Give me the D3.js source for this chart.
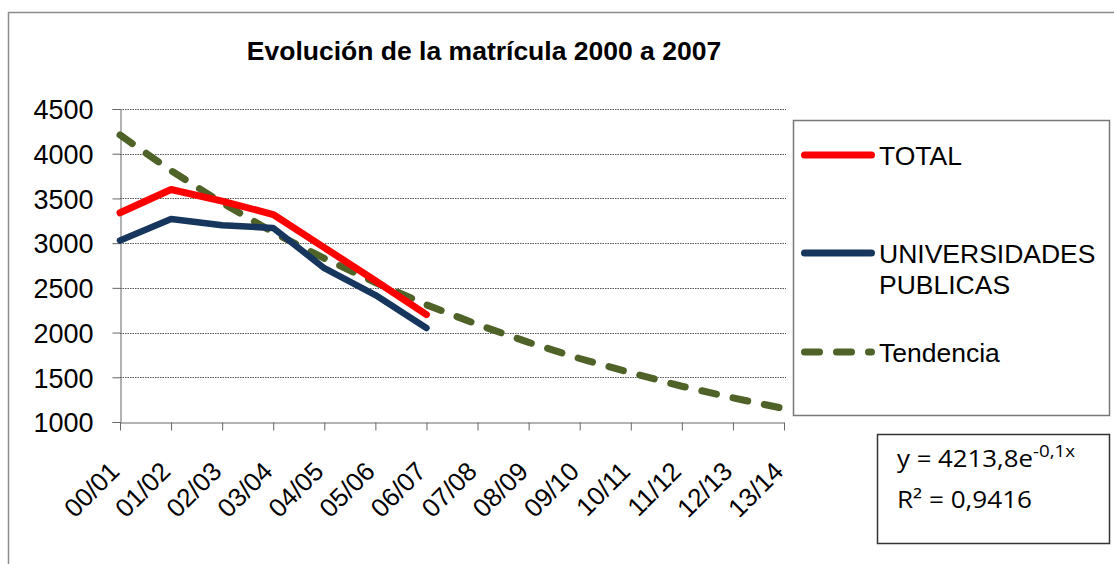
<!DOCTYPE html>
<html>
<head>
<meta charset="utf-8">
<script src="https://cdn.jsdelivr.net/npm/d3@7"></script>
<style>
  body { margin: 0; background: white; }
  text { font-family: "Liberation Sans", Arial, sans-serif; }
</style>
</head>
<body>
<script>
// data
const years = ["00/01", "01/02", "02/03", "03/04", "04/05", "05/06", "06/07",
               "07/08", "08/09", "09/10", "10/11", "11/12", "12/13", "13/14"]
const total = [3340, 3600, 3470, 3320, 2950, 2580, 2200]
const publicas = [3030, 3270, 3200, 3170, 2720, 2420, 2050]
const tendencia = [4210, 3810, 3450, 3120, 2830, 2560, 2310, 2090, 1890, 1710, 1550, 1400, 1270, 1150]
const yTicks = [1000, 1500, 2000, 2500, 3000, 3500, 4000, 4500]

const svg = d3.select("body").append("svg")
            .attr("width", 1114)
            .attr("height", 564)

// outer frame (only top and left show)
svg.append("path")
    .attr("d", "M8.5,564 V12.5 H1114")
    .style("fill", "none")
    .style("stroke", "#8c8c8c")
    .style("stroke-width", 1.5)

const x = d3.scalePoint().domain(years).range([120, 784])
const y = d3.scaleLinear().domain([1000, 4500]).range([422, 109])

svg.append("text")
    .attr("x", 484)
    .attr("y", 60)
    .attr("text-anchor", "middle")
    .style("font-weight", "bold")
    .style("font-size", "26.5px")
    .text("Evolución de la matrícula 2000 a 2007")

// gridlines
svg.selectAll(".grid")
    .data(yTicks.filter(d => d > 1000))
    .join("line")
    .attr("class", "grid")
    .attr("x1", 120).attr("x2", 786)
    .attr("y1", d => Math.round(y(d)) + 0.5)
    .attr("y2", d => Math.round(y(d)) + 0.5)
    .style("stroke", "#555")
    .style("stroke-width", 1)
    .style("stroke-dasharray", "1.5,1")

// y axis
const yAxis = svg.append("g")
    .attr("transform", "translate(120.5,0)")
    .call(d3.axisLeft(y).tickValues(yTicks).tickFormat(d3.format("d")).tickSize(8).tickPadding(19))
yAxis.select(".domain").style("stroke", "#666")
yAxis.selectAll(".tick line").style("stroke", "#666")
yAxis.selectAll(".tick text")
    .style("font-size", "27px")
    .style("font-family", "Liberation Sans, Arial, sans-serif")
    .attr("dy", "0.36em")
    .style("fill", "black")

// x axis
const xAxis = svg.append("g")
    .attr("transform", "translate(0,422.5)")
    .call(d3.axisBottom(x).tickSize(8).tickSizeOuter(0).tickFormat(""))
xAxis.select(".domain").style("stroke", "#666")
xAxis.selectAll(".tick line").style("stroke", "#666")

svg.selectAll(".xlabel")
    .data(years)
    .join("text")
    .attr("class", "xlabel")
    .attr("transform", d => `translate(${x(d) + 1},${473}) rotate(-45)`)
    .attr("text-anchor", "end")
    .style("font-size", "26px")
    .text(d => d)

const line = d3.line()
    .x((d, i) => x(years[i]))
    .y(d => y(d))

svg.append("path")
    .datum(tendencia)
    .attr("d", line)
    .style("fill", "none")
    .style("stroke", "#4f6228")
    .style("stroke-width", 7)
    .style("stroke-linecap", "round")
    .style("stroke-dasharray", "15,17")

svg.append("path")
    .datum(publicas)
    .attr("d", line)
    .style("fill", "none")
    .style("stroke", "#17365d")
    .style("stroke-width", 6.5)
    .style("stroke-linecap", "round")
    .style("stroke-linejoin", "round")

svg.append("path")
    .datum(total)
    .attr("d", line)
    .style("fill", "none")
    .style("stroke", "#ff0000")
    .style("stroke-width", 7)
    .style("stroke-linecap", "round")
    .style("stroke-linejoin", "round")

// legend
svg.append("rect")
    .attr("x", 793.5).attr("y", 120.5)
    .attr("width", 316).attr("height", 295)
    .style("fill", "white")
    .style("stroke", "#777")
    .style("stroke-width", 1.5)

const legendItems = [
    {label: ["TOTAL"], color: "#ff0000", y: 155, dash: null},
    {label: ["UNIVERSIDADES", "PUBLICAS"], color: "#17365d", y: 253, dash: null},
    {label: ["Tendencia"], color: "#4f6228", y: 352, dash: "15,17"}
]

const legend = svg.selectAll(".legend")
    .data(legendItems)
    .join("g")
    .attr("class", "legend")

legend.append("line")
    .attr("x1", 804.5).attr("x2", 871.5)
    .attr("y1", d => d.y).attr("y2", d => d.y)
    .style("stroke", d => d.color)
    .style("stroke-width", 7)
    .style("stroke-linecap", "round")
    .style("stroke-dasharray", d => d.dash)

legend.append("text")
    .attr("x", 879)
    .attr("y", d => d.y + 10)
    .style("font-size", "26.5px")
    .selectAll("tspan")
    .data(d => d.label)
    .join("tspan")
    .attr("x", 879)
    .attr("dy", (d, i) => i == 0 ? 0 : 31)
    .text(d => d)

// trendline equation
svg.append("rect")
    .attr("x", 877.5).attr("y", 434.5)
    .attr("width", 232).attr("height", 109)
    .style("fill", "white")
    .style("stroke", "#333")
    .style("stroke-width", 1.5)

const eq = svg.append("text")
    .attr("x", 897)
    .attr("y", 467)
    .style("font-family", "'Open Sans', Lato, sans-serif")
    .style("font-size", "23px")
eq.append("tspan")
    .attr("textLength", 136)
    .attr("lengthAdjust", "spacingAndGlyphs")
    .text("y = 4213,8e")
eq.append("tspan")
    .attr("dy", -10)
    .style("font-size", "16px")
    .attr("textLength", 42)
    .attr("lengthAdjust", "spacingAndGlyphs")
    .text("-0,1x")

svg.append("text")
    .attr("x", 897)
    .attr("y", 508)
    .style("font-family", "'Open Sans', Lato, sans-serif")
    .style("font-size", "23px")
    .attr("textLength", 135)
    .attr("lengthAdjust", "spacingAndGlyphs")
    .text("R² = 0,9416")
</script>
</body>
</html>
